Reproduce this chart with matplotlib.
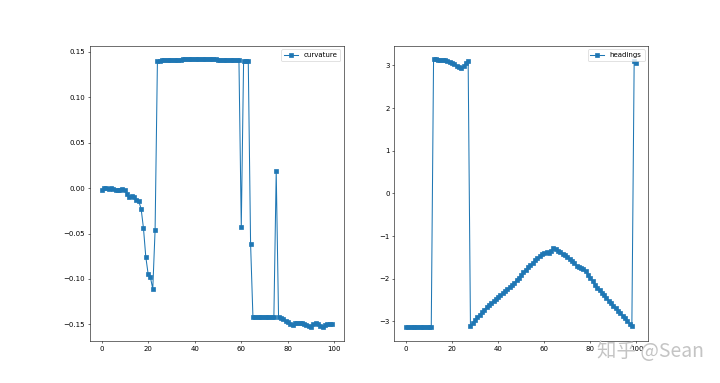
import numpy as np
import matplotlib
matplotlib.use("Agg")
import matplotlib.pyplot as plt

# curvature, one value per point (0..99)
curvature = [
    -0.0026, 0.0000, -0.0004, -0.0008, -0.0004, -0.0011, -0.0019, -0.0026, -0.0019, -0.0011,
    -0.0026, -0.0066, -0.0099, -0.0092, -0.0096, -0.0136, -0.0147, -0.0228, -0.0440, -0.0756,
    -0.0943, -0.0983, -0.1110, -0.0459, 0.1400, 0.1402, 0.1404, 0.1406, 0.1408, 0.1409,
    0.1410, 0.1411, 0.1412, 0.1413, 0.1413, 0.1414, 0.1414, 0.1414, 0.1414, 0.1414,
    0.1414, 0.1414, 0.1414, 0.1414, 0.1414, 0.1415, 0.1415, 0.1415, 0.1414, 0.1414,
    0.1413, 0.1412, 0.1411, 0.1410, 0.1409, 0.1408, 0.1407, 0.1406, 0.1405, 0.1404,
    -0.0429, 0.1400, 0.1400, 0.1400, -0.0616, -0.1413, -0.1413, -0.1413, -0.1413, -0.1413,
    -0.1413, -0.1413, -0.1413, -0.1413, -0.1413, 0.0183, -0.1413, -0.1427, -0.1442, -0.1460,
    -0.1478, -0.1493, -0.1504, -0.1489, -0.1482, -0.1482, -0.1486, -0.1493, -0.1504, -0.1522,
    -0.1526, -0.1500, -0.1482, -0.1493, -0.1522, -0.1533, -0.1511, -0.1500, -0.1500, -0.1496,
]

# headings, one value per point (0..100)
headings = [
    -3.135, -3.135, -3.135, -3.135, -3.135, -3.136, -3.136, -3.137, -3.137, -3.138,
    -3.139, -3.140, 3.140, 3.139, 3.135, 3.130, 3.125, 3.120, 3.100, 3.080,
    3.050, 3.020, 2.990, 2.960, 2.935, 2.990, 3.050, 3.100, -3.100, -3.030,
    -2.960, -2.900, -2.840, -2.780, -2.720, -2.670, -2.620, -2.570, -2.520, -2.470,
    -2.430, -2.380, -2.340, -2.290, -2.240, -2.200, -2.150, -2.090, -2.030, -1.970,
    -1.910, -1.850, -1.790, -1.730, -1.680, -1.620, -1.570, -1.520, -1.470, -1.430,
    -1.400, -1.380, -1.390, -1.340, -1.290, -1.310, -1.350, -1.380, -1.420, -1.450,
    -1.490, -1.530, -1.580, -1.640, -1.690, -1.730, -1.750, -1.760, -1.820, -1.900,
    -1.980, -2.060, -2.140, -2.210, -2.270, -2.330, -2.390, -2.450, -2.510, -2.570,
    -2.630, -2.690, -2.750, -2.810, -2.870, -2.930, -2.990, -3.050, -3.100, 3.100,
    3.050,
]

# big figure rendered at low dpi, like a downscaled screenshot
fig, (ax1, ax2) = plt.subplots(1, 2, figsize=(14.4, 7.66), dpi=50)

ax1.plot(np.arange(len(curvature)), curvature, marker="s", label="curvature")
ax1.legend(loc="upper right")

ax2.plot(np.arange(len(headings)), headings, marker="s", label="headings")
ax2.legend(loc="upper right")

fig.text(0.978, 0.055, "知乎 @Sean", ha="right", va="bottom", fontsize=28,
         color="#c4c4c4", family=["Noto Sans CJK SC", "DejaVu Sans"])

fig.savefig("out.png", dpi=50)
